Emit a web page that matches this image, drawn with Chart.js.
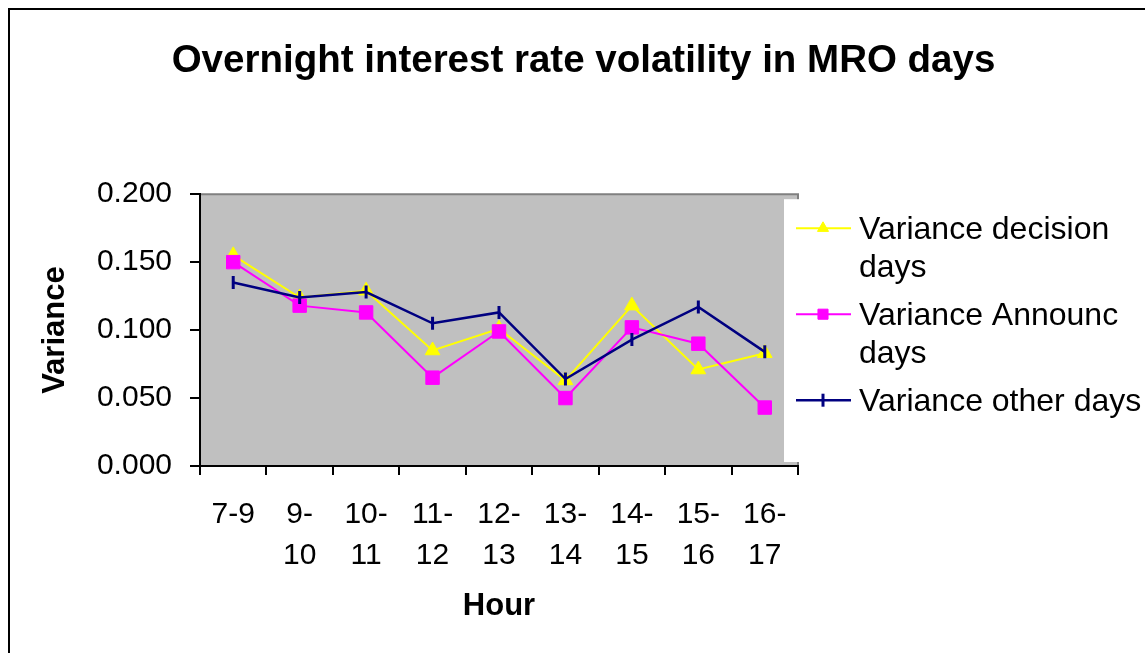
<!DOCTYPE html>
<html>
<head>
<meta charset="utf-8">
<script src="https://cdn.jsdelivr.net/npm/chart.js@4/dist/chart.umd.min.js"></script>
<style>
html, body { margin: 0; padding: 0; background: #fff; }
#wrap { width: 1145px; height: 653px; }
</style>
</head>
<body>
<div id="wrap"><canvas id="chart" width="1145" height="653"></canvas></div>
<script>
// Hour buckets, wrapped the way the original axis shows them
var hourLabels = [['7-9'], ['9-', '10'], ['10-', '11'], ['11-', '12'], ['12-', '13'],
                  ['13-', '14'], ['14-', '15'], ['15-', '16'], ['16-', '17']];

var decisionDays = [0.155, 0.124, 0.129, 0.085, 0.101, 0.063, 0.118, 0.071, 0.083];
var announcDays  = [0.150, 0.118, 0.113, 0.065, 0.099, 0.050, 0.102, 0.090, 0.043];
var otherDays    = [0.135, 0.124, 0.128, 0.105, 0.113, 0.064, 0.093, 0.117, 0.084];

var seriesNames = ['Variance decision days', 'Variance Announc days', 'Variance other days'];
var yMin = 0, yMax = 0.2, yStep = 0.05;

var FONT = '"Liberation Sans", Arial, sans-serif';
Chart.defaults.font.family = FONT;
Chart.defaults.color = '#000';

/**
 * Split a legend label into lines that fit maxW.
 */
function _wrap(ctx, text, maxW) {
    var words = text.split(' ');
    var lines = [];
    var cur = '';
    words.forEach(function(w) {
        var test = cur ? cur + ' ' + w : w;
        if (cur && ctx.measureText(test).width > maxW) {
            lines.push(cur);
            cur = w;
        } else {
            cur = test;
        }
    });
    if (cur) lines.push(cur);
    return lines;
}

// Grey plot area with the darker top / right edge
var plotBg = {
    id: 'plotBg',
    beforeDraw: function(chart) {
        var ctx = chart.ctx;
        var a = chart.chartArea;
        ctx.save();
        ctx.fillStyle = '#c0c0c0';
        ctx.fillRect(a.left, a.top, a.right - a.left, a.bottom - a.top);
        ctx.strokeStyle = '#808080';
        ctx.lineWidth = 2;
        ctx.beginPath();
        ctx.moveTo(a.left, a.top);
        ctx.lineTo(a.right, a.top);
        ctx.lineTo(a.right, a.bottom);
        ctx.stroke();
        ctx.restore();
    }
};

// Legend on the right with wrapped labels, plus the outer frame
var sideLegend = {
    id: 'sideLegend',
    afterDraw: function(chart) {
        var ctx = chart.ctx;
        var a = chart.chartArea;
        var boxLeft = a.right - 14;
        ctx.save();
        ctx.fillStyle = '#ffffff';
        ctx.fillRect(boxLeft, a.top + 5, chart.width - boxLeft, a.bottom - a.top - 9);

        ctx.font = '32px ' + FONT;
        ctx.textAlign = 'left';
        ctx.textBaseline = 'alphabetic';
        var textX = boxLeft + 75;
        var maxW = 300;

        chart.data.datasets.forEach(function(ds, i) {
            var base = a.top + 45 + i * 86;
            var mid = base - 11;
            ctx.strokeStyle = ds.borderColor;
            ctx.lineWidth = ds.borderWidth;
            ctx.beginPath();
            ctx.moveTo(boxLeft + 12, mid);
            ctx.lineTo(boxLeft + 67, mid);
            ctx.stroke();

            ctx.fillStyle = ds.pointBackgroundColor;
            ctx.strokeStyle = ds.pointBorderColor;
            ctx.lineWidth = ds.pointBorderWidth;
            var scale = ds.pointStyle === 'line' ? 1 : 0.75;
            Chart.helpers.drawPoint(ctx, {
                pointStyle: ds.pointStyle,
                radius: ds.pointRadius * scale,
                rotation: ds.pointRotation || 0,
                borderWidth: ds.pointBorderWidth
            }, boxLeft + 39, mid);

            ctx.fillStyle = '#000';
            _wrap(ctx, ds.label, maxW).forEach(function(line, j) {
                ctx.fillText(line, textX, base + j * 38);
            });
        });

        ctx.strokeStyle = '#000';
        ctx.lineWidth = 2;
        ctx.strokeRect(9, 9, chart.width + 20, chart.height + 20);
        ctx.restore();
    }
};

new Chart(document.getElementById('chart'), {
    type: 'line',
    data: {
        labels: hourLabels,
        datasets: [{
            label: seriesNames[0],
            data: decisionDays,
            borderColor: '#ffff00',
            borderWidth: 2,
            pointStyle: 'triangle',
            pointRadius: 8.5,
            pointBackgroundColor: '#ffff00',
            pointBorderColor: '#ffff00',
            pointBorderWidth: 1,
            order: 3,
        }, {
            label: seriesNames[1],
            data: announcDays,
            borderColor: '#ff00ff',
            borderWidth: 2,
            pointStyle: 'rect',
            pointRadius: 9.5,
            pointBackgroundColor: '#ff00ff',
            pointBorderColor: '#ff00ff',
            pointBorderWidth: 1,
            order: 2,
        }, {
            label: seriesNames[2],
            data: otherDays,
            borderColor: '#000080',
            borderWidth: 2.5,
            pointStyle: 'line',
            pointRadius: 6.5,
            pointRotation: 90,
            pointBackgroundColor: '#000080',
            pointBorderColor: '#000080',
            pointBorderWidth: 3,
            order: 1,
        }],
    },
    options: {
        responsive: false,
        animation: false,
        events: [],
        layout: { padding: { left: 22, top: 0, right: 0, bottom: 0 } },
        elements: { line: { tension: 0 } },
        plugins: {
            legend: { display: false },
            tooltip: { enabled: false },
            title: {
                display: true,
                text: 'Overnight interest rate volatility in MRO days',
                font: { size: 38.5, weight: 'bold' },
                color: '#000',
                padding: { top: 38, bottom: 110 },
            },
        },
        scales: {
            x: {
                type: 'category',
                offset: true,
                afterFit: function(s) { s.height = 187; },
                grid: { offset: true, drawOnChartArea: false, drawTicks: true, tickLength: 9, color: '#000', lineWidth: 2 },
                border: { display: true, color: '#000', width: 2 },
                ticks: { autoSkip: false, maxRotation: 0, padding: 19, font: { size: 30, lineHeight: 1.37 }, color: '#000' },
                title: { display: true, text: 'Hour', font: { size: 31, weight: 'bold' }, color: '#000', padding: { top: 0, bottom: 28 } },
            },
            y: {
                min: yMin,
                max: yMax,
                afterFit: function(s) { s.width = 178; },
                grid: { drawOnChartArea: false, drawTicks: true, tickLength: 10, color: '#000', lineWidth: 2 },
                border: { display: true, color: '#000', width: 2 },
                ticks: {
                    stepSize: yStep,
                    padding: 18,
                    font: { size: 30 },
                    color: '#000',
                    callback: function(v) { return Number(v).toFixed(3); },
                },
                title: { display: true, text: 'Variance', font: { size: 31, weight: 'bold' }, color: '#000', padding: { top: 15, bottom: 0 } },
            },
            // empty right-hand strip that holds the legend space
            legendSpace: {
                type: 'linear',
                position: 'right',
                afterFit: function(s) { s.width = 347; },
                grid: { display: false },
                border: { display: false },
                ticks: { display: false },
            },
        },
    },
    plugins: [plotBg, sideLegend],
});
</script>
</body>
</html>
